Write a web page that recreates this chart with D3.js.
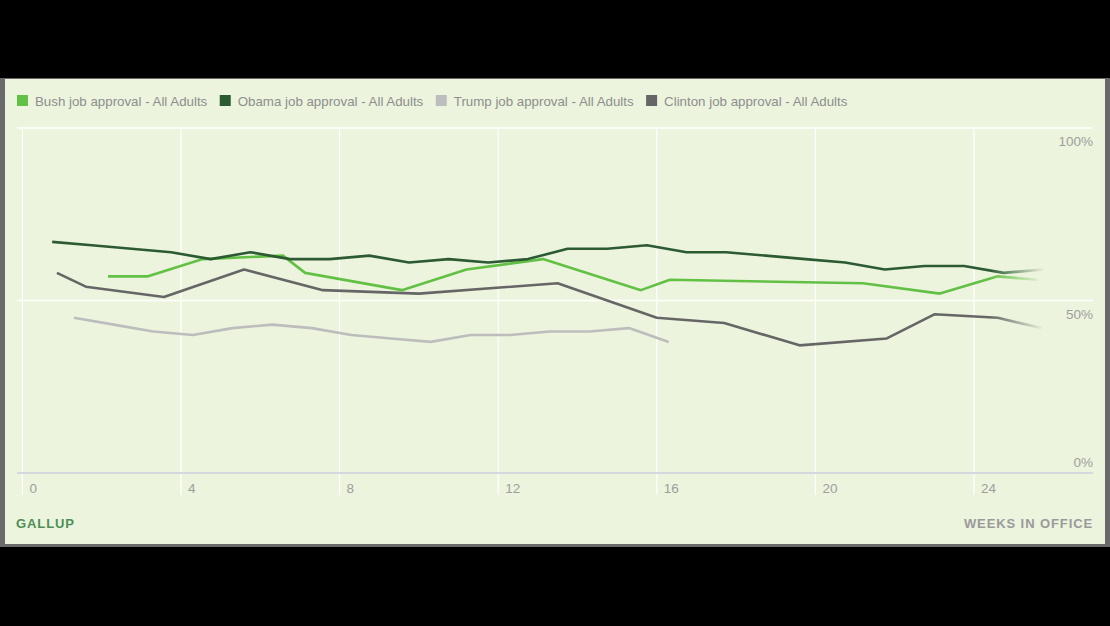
<!DOCTYPE html>
<html>
<head>
<meta charset="utf-8">
<script src="https://cdn.jsdelivr.net/npm/d3@7"></script>
<style>
  html, body { margin: 0; padding: 0; background: #000; }
  svg { display: block; }
</style>
</head>
<body>
<svg id="chart" width="1110" height="626"></svg>
<script>
// ---- Data ----
const seriesNames = [
  "Bush job approval - All Adults",
  "Obama job approval - All Adults",
  "Trump job approval - All Adults",
  "Clinton job approval - All Adults"
];
const seriesColors = ["#62c144", "#2c5a33", "#bdbdbd", "#666666"];

const bushWeeks = [2.16, 3.17, 4.55, 6.57, 7.13, 9.57, 11.2, 13.13, 15.6, 16.33, 21.2, 23.14, 24.6, 25.6];
const bushValues = [57, 57, 62, 63, 58, 53, 59, 62, 53, 56, 55, 52, 57, 56];

const obamaWeeks = [0.75, 1.75, 2.75, 3.75, 4.75, 5.75, 6.75, 7.75, 8.75, 9.75, 10.75, 11.75, 12.75,
  13.75, 14.75, 15.75, 16.75, 17.75, 18.75, 19.75, 20.75, 21.75, 22.75, 23.75, 24.75, 25.75];
const obamaValues = [67, 66, 65, 64, 62, 64, 62, 62, 63, 61, 62, 61, 62,
  65, 65, 66, 64, 64, 63, 62, 61, 59, 60, 60, 58, 59];

const trumpWeeks = [1.3, 2.3, 3.3, 4.3, 5.3, 6.3, 7.3, 8.3, 9.3, 10.3, 11.3, 12.3, 13.3, 14.3, 15.3, 16.3];
const trumpValues = [45, 43, 41, 40, 42, 43, 42, 40, 39, 38, 40, 40, 41, 41, 42, 38];

const clintonWeeks = [0.87, 1.6, 3.57, 5.59, 7.58, 10.0, 13.5, 16.0, 17.7, 19.6, 21.8, 23.0, 24.6, 25.7];
const clintonValues = [58, 54, 51, 59, 53, 52, 55, 45, 43.5, 37, 39, 46, 45, 42];

const xTicks = [0, 4, 8, 12, 16, 20, 24];
const xTickLabels = ["0", "4", "8", "12", "16", "20", "24"];
const yTicks = [0, 50, 100];
const yTickLabels = ["0%", "50%", "100%"];
const sourceLabel = "GALLUP";
const xAxisTitle = "WEEKS IN OFFICE";

// ---- Layout ----
const svg = d3.select("#chart");
const bg = "#ecf4dd";
const font = "Liberation Sans, Arial, sans-serif";

const x = d3.scaleLinear().domain([0, 24]).range([22.4, 974]);
const y = d3.scaleLinear().domain([0, 100]).range([473, 128]);

// frame
svg.append("rect").attr("x", 0).attr("y", 78).attr("width", 1110).attr("height", 469).attr("fill", "#6a6a6a");
svg.append("rect").attr("x", 5).attr("y", 79).attr("width", 1100).attr("height", 465).attr("fill", bg);

const defs = svg.append("defs");
const grad = defs.append("linearGradient").attr("id", "fade")
  .attr("gradientUnits", "userSpaceOnUse").attr("x1", 990).attr("x2", 1045).attr("y1", 0).attr("y2", 0);
grad.append("stop").attr("offset", 0).attr("stop-color", "#fff").attr("stop-opacity", 1);
grad.append("stop").attr("offset", 1).attr("stop-color", "#fff").attr("stop-opacity", 0);
defs.append("mask").attr("id", "fadeMask").attr("maskUnits", "userSpaceOnUse")
  .append("rect").attr("x", 0).attr("y", 0).attr("width", 1110).attr("height", 626).attr("fill", "url(#fade)");

// vertical gridlines
svg.append("g").selectAll("line").data(xTicks).join("line")
  .attr("x1", d => x(d)).attr("x2", d => x(d))
  .attr("y1", y(100)).attr("y2", 495)
  .attr("stroke", "#ffffff").attr("stroke-width", 1.2);

// horizontal gridlines
svg.append("g").selectAll("line").data(yTicks).join("line")
  .attr("x1", 17).attr("x2", 1093)
  .attr("y1", d => y(d)).attr("y2", d => y(d))
  .attr("stroke", d => d === 0 ? "#d3d9de" : "#ffffff")
  .attr("stroke-width", d => d === 0 ? 2 : 1.5);

// x tick labels
svg.append("g").selectAll("text").data(xTicks).join("text")
  .attr("x", d => x(d) + 7).attr("y", 493)
  .text((d, i) => xTickLabels[i])
  .attr("font-family", font).attr("font-size", 13.5)
  .attr("fill", "#9e9e9e");

// y tick labels
svg.append("g").selectAll("text").data(yTicks).join("text")
  .attr("x", 1093).attr("y", d => d === 0 ? y(d) - 6 : y(d) + 18)
  .attr("text-anchor", "end")
  .text((d, i) => yTickLabels[i])
  .attr("font-family", font).attr("font-size", 13.5)
  .attr("fill", "#9e9e9e");

// lines
const seriesData = [
  bushWeeks.map((w, i) => [w, bushValues[i]]),
  obamaWeeks.map((w, i) => [w, obamaValues[i]]),
  trumpWeeks.map((w, i) => [w, trumpValues[i]]),
  clintonWeeks.map((w, i) => [w, clintonValues[i]])
];
const line = d3.line().x(d => x(d[0])).y(d => y(d[1]));
const drawOrder = [2, 3, 0, 1];
svg.append("g").attr("mask", "url(#fadeMask)")
  .selectAll("path").data(drawOrder).join("path")
  .attr("d", i => line(seriesData[i]))
  .attr("fill", "none")
  .attr("stroke", i => seriesColors[i])
  .attr("stroke-width", 2.6)
  .attr("stroke-linejoin", "round");

// legend
const legend = svg.append("g");
let lx = 17;
seriesNames.forEach((name, i) => {
  legend.append("rect").attr("x", lx).attr("y", 95).attr("width", 11).attr("height", 11)
    .attr("fill", seriesColors[i]);
  const t = legend.append("text").attr("x", lx + 18).attr("y", 105.5)
    .text(name)
    .attr("font-family", font).attr("font-size", 13.3)
    .attr("fill", "#8e8e8e");
  lx = lx + 18 + t.node().getComputedTextLength() + 12.5;
});

// footer labels
svg.append("text").attr("x", 16).attr("y", 528).text(sourceLabel)
  .attr("font-family", font).attr("font-size", 13)
  .attr("font-weight", "bold").attr("letter-spacing", 0.9).attr("fill", "#4f8f57");
svg.append("text").attr("x", 1093).attr("y", 528).text(xAxisTitle)
  .attr("text-anchor", "end")
  .attr("font-family", font).attr("font-size", 13)
  .attr("font-weight", "bold").attr("letter-spacing", 0.9).attr("fill", "#9a9a9a");
</script>
</body>
</html>
